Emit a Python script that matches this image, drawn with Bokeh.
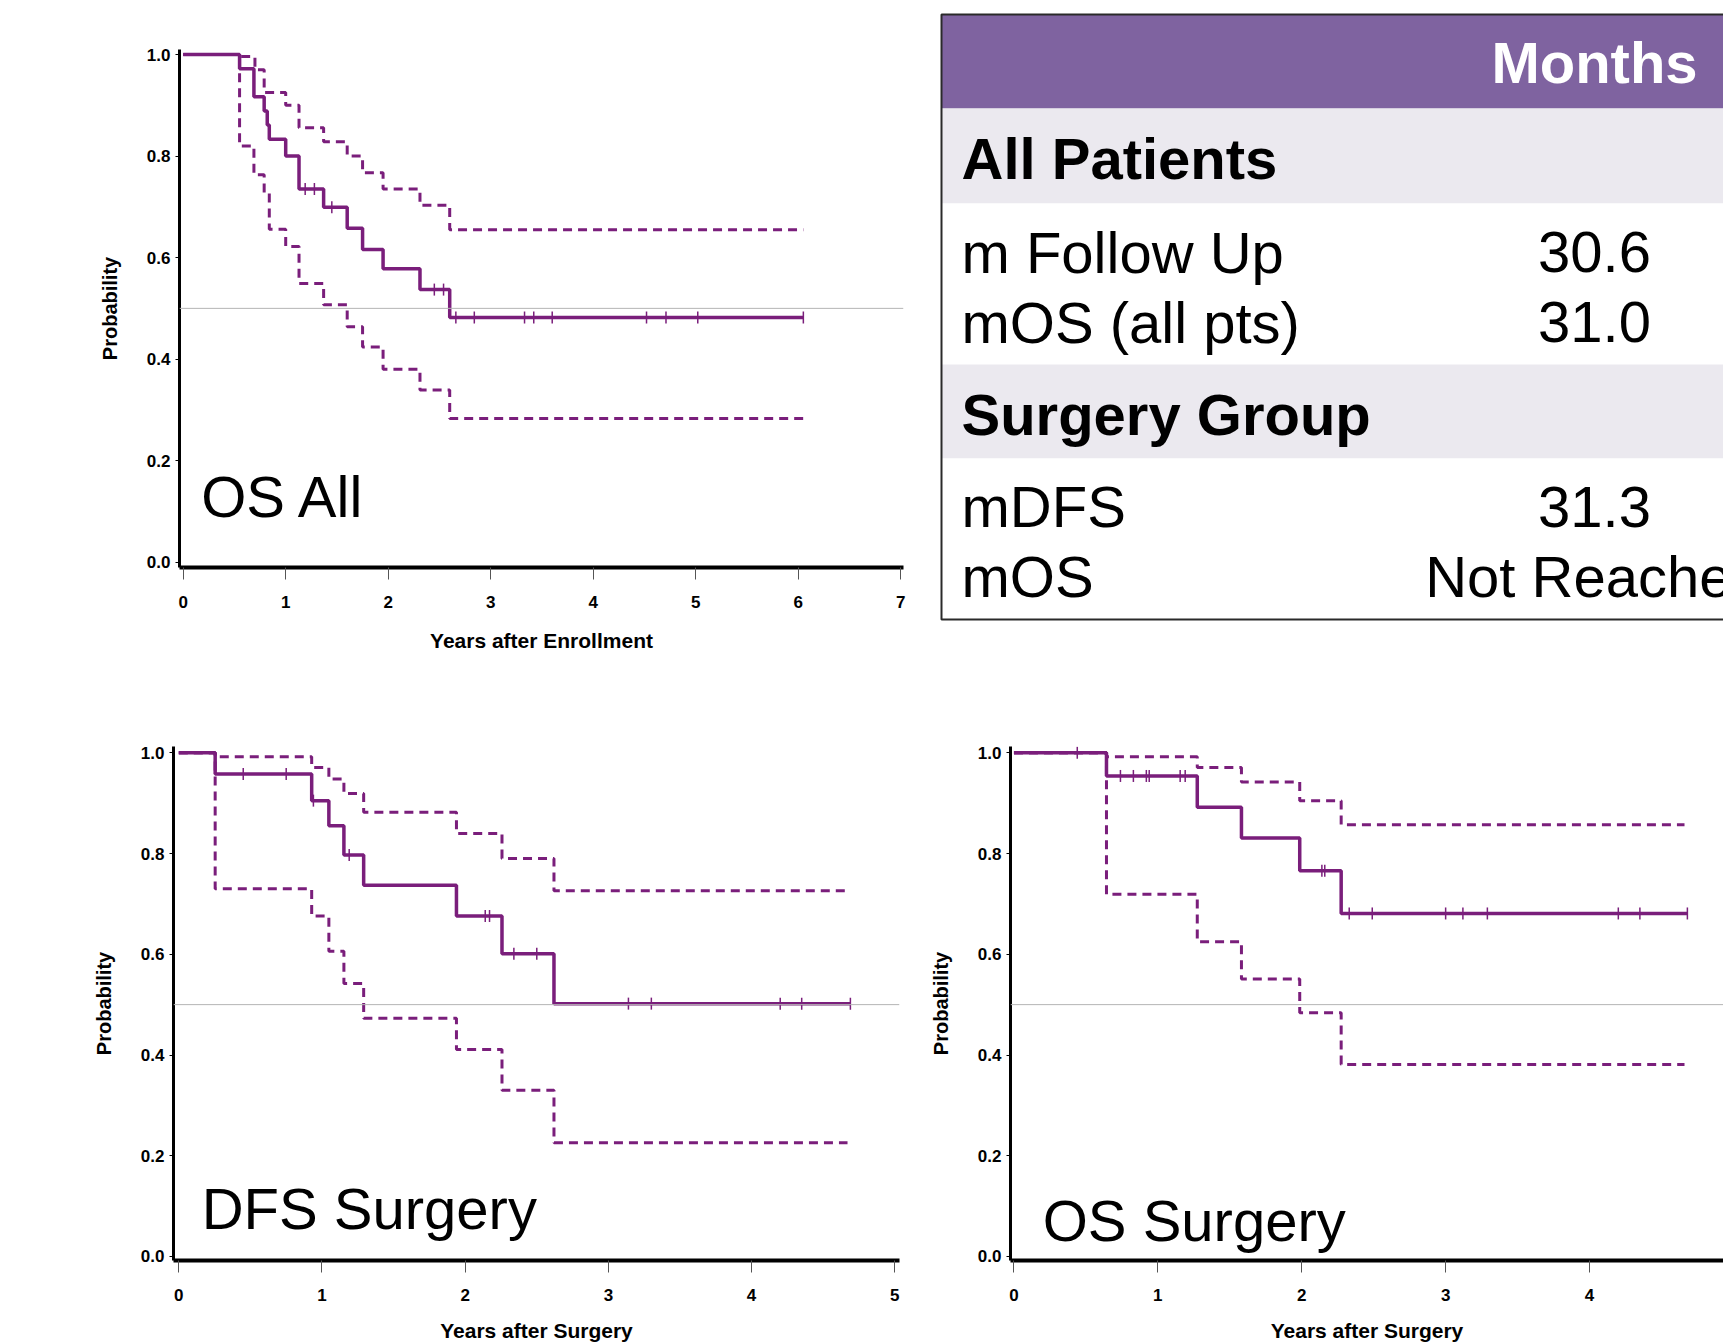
import numpy as np
from bokeh.plotting import figure
from bokeh.layouts import row, column
from bokeh.models import Range1d, FixedTicker, Span, Label
from bokeh.core.properties import value
from bokeh.embed import file_html
from bokeh.resources import INLINE

# ---------------- data ----------------
# OS, all patients (years after enrollment)
os_all_time = [0, 0.55, 0.69, 0.79, 0.82, 0.84, 1.00, 1.13, 1.37, 1.60, 1.75, 1.95, 2.31, 2.60, 6.05]
os_all_surv = [1.0, 0.972, 0.917, 0.889, 0.861, 0.833, 0.800, 0.735, 0.699, 0.658, 0.616, 0.578, 0.537, 0.482, 0.482]
os_all_up_time = [0, 0.55, 0.70, 0.79, 1.00, 1.13, 1.37, 1.60, 1.75, 1.95, 2.31, 2.60, 6.05]
os_all_up_surv = [1.0, 0.996, 0.970, 0.925, 0.900, 0.856, 0.828, 0.800, 0.767, 0.735, 0.703, 0.655, 0.655]
os_all_lo_time = [0, 0.55, 0.69, 0.79, 0.84, 1.00, 1.13, 1.37, 1.60, 1.75, 1.95, 2.31, 2.60, 6.05]
os_all_lo_surv = [1.0, 0.820, 0.763, 0.727, 0.656, 0.622, 0.549, 0.507, 0.464, 0.424, 0.380, 0.339, 0.283, 0.283]
os_all_censor = [1.19, 1.28, 1.45, 2.45, 2.54, 2.66, 2.84, 3.33, 3.42, 3.60, 4.52, 4.71, 5.02, 6.05]

# DFS, surgery group (years after surgery)
dfs_time = [0, 0.254, 0.928, 1.048, 1.153, 1.291, 1.939, 2.257, 2.62, 4.69]
dfs_surv = [1.0, 0.958, 0.905, 0.855, 0.797, 0.737, 0.676, 0.601, 0.502, 0.502]
dfs_ci_time = [0, 0.254, 0.928, 1.048, 1.153, 1.291, 1.939, 2.257, 2.62, 4.67]
dfs_up_surv = [1.0, 0.992, 0.971, 0.948, 0.919, 0.882, 0.840, 0.790, 0.726, 0.726]
dfs_lo_surv = [1.0, 0.730, 0.676, 0.606, 0.542, 0.473, 0.411, 0.330, 0.226, 0.226]
dfs_censor = [0.45, 0.75, 0.94, 1.19, 2.14, 2.17, 2.34, 2.50, 3.14, 3.30, 4.20, 4.35, 4.69]

# OS, surgery group (years after surgery)
oss_time = [0, 0.643, 1.274, 1.581, 1.986, 2.274, 4.68]
oss_surv = [1.0, 0.954, 0.892, 0.831, 0.766, 0.681, 0.681]
oss_ci_time = [0, 0.643, 1.274, 1.581, 1.986, 2.274, 4.66]
oss_up_surv = [1.0, 0.992, 0.971, 0.942, 0.905, 0.857, 0.857]
oss_lo_surv = [1.0, 0.719, 0.625, 0.551, 0.484, 0.381, 0.381]
oss_censor = [0.44, 0.74, 0.83, 0.92, 0.94, 1.155, 1.19, 2.14, 2.16, 2.33, 2.49, 3.00, 3.12, 3.29, 4.20, 4.35, 4.68]

y_ticks = [0.0, 0.2, 0.4, 0.6, 0.8, 1.0]
y_tick_labels = ["0.0", "0.2", "0.4", "0.6", "0.8", "1.0"]
x_ticks_enroll = [0, 1, 2, 3, 4, 5, 6, 7]
x_ticks_surgery = [0, 1, 2, 3, 4, 5]
median_level = 0.5

# summary table
table_header = "Months"
section_titles = ["All Patients", "Surgery Group"]
row_labels = ["m Follow Up", "mOS (all pts)", "mDFS", "mOS"]
row_values = ["30.6", "31.0", "31.3", "Not Reached"]

# ---------------- style ----------------
PURPLE = "#7A1E7B"
FONT = "Liberation Sans"
HEADER = "#7F63A0"
BAND = "#EBE9EF"


def step_at(times, surv, t):
    idx = np.searchsorted(np.asarray(times), np.asarray(t), side="right") - 1
    return [surv[i] for i in idx]


def km_panel(width, height, borders, xr, yr, xticks, xlabel, title, title_pos,
             t, s, t_up, s_up, t_lo, s_lo, cens, xlabel_standoff):
    bl, br, bt, bb = borders
    p = figure(width=width, height=height, x_range=Range1d(*xr), y_range=Range1d(*yr),
               output_backend="svg", toolbar_location=None,
               min_border_left=bl, min_border_right=br, min_border_top=bt, min_border_bottom=bb)
    p.outline_line_color = None
    p.grid.visible = False
    p.background_fill_color = "white"
    p.border_fill_color = "white"

    xa = p.xaxis[0]
    xa.ticker = FixedTicker(ticks=xticks)
    xa.axis_line_width = 4
    xa.axis_line_color = "black"
    xa.major_tick_out = 12
    xa.major_tick_in = 0
    xa.major_tick_line_color = "#555555"
    xa.major_tick_line_width = 1
    xa.minor_tick_line_color = None
    xa.major_label_standoff = 16
    xa.major_label_text_font = FONT
    xa.major_label_text_font_style = "bold"
    xa.major_label_text_font_size = "17px"
    xa.major_label_text_color = "black"
    xa.axis_label = xlabel
    xa.axis_label_text_font = FONT
    xa.axis_label_text_font_style = "bold"
    xa.axis_label_text_font_size = "21px"
    xa.axis_label_text_color = "black"
    xa.axis_label_standoff = xlabel_standoff

    ya = p.yaxis[0]
    ya.ticker = FixedTicker(ticks=y_ticks)
    ya.major_label_overrides = {v: l for v, l in zip(y_ticks, y_tick_labels)}
    ya.axis_line_width = 3
    ya.axis_line_color = "black"
    ya.major_tick_out = 4
    ya.major_tick_in = 0
    ya.major_tick_line_color = "black"
    ya.major_tick_line_width = 1
    ya.minor_tick_line_color = None
    ya.major_label_standoff = 5
    ya.major_label_text_font = FONT
    ya.major_label_text_font_style = "bold"
    ya.major_label_text_font_size = "17px"
    ya.major_label_text_color = "black"
    ya.axis_label = "Probability"
    ya.axis_label_text_font = FONT
    ya.axis_label_text_font_style = "bold"
    ya.axis_label_text_font_size = "20px"
    ya.axis_label_text_color = "black"
    ya.axis_label_standoff = 23

    p.add_layout(Span(location=median_level, dimension="width",
                      line_color="#b4b4b4", line_width=1))

    p.step(t_up, s_up, mode="after", line_color=PURPLE, line_width=3, line_dash="9 6")
    p.step(t_lo, s_lo, mode="after", line_color=PURPLE, line_width=3, line_dash="9 6")
    p.step(t, s, mode="after", line_color=PURPLE, line_width=3.5)
    p.scatter(cens, step_at(t, s, cens), marker="dash", angle=np.pi / 2, size=12,
              line_color=PURPLE, line_width=1.5)

    p.add_layout(Label(x=title_pos[0], y=title_pos[1], text=title, text_font=FONT,
                       text_font_size="58px", text_color="black",
                       text_baseline="alphabetic", text_align="left"))
    return p


pA = km_panel(930, 700, (179, 27, 49, 133), (-0.036, 7.027), (-0.0104, 1.0099),
              x_ticks_enroll, "Years after Enrollment", "OS All", (0.175, 0.129),
              os_all_time, os_all_surv, os_all_up_time, os_all_up_surv,
              os_all_lo_time, os_all_lo_surv, os_all_censor, 18)

pB = km_panel(920, 644, (173, 21, 46, 81), (-0.037, 5.033), (-0.008, 1.0125),
              x_ticks_surgery, "Years after Surgery", "DFS Surgery", (0.16, 0.095),
              dfs_time, dfs_surv, dfs_ci_time, dfs_up_surv,
              dfs_ci_time, dfs_lo_surv, dfs_censor, 15)

pC = km_panel(803, 644, (90, 0, 46, 81), (-0.024, 4.931), (-0.008, 1.0125),
              x_ticks_surgery, "Years after Surgery", "OS Surgery", (0.20, 0.071),
              oss_time, oss_surv, oss_ci_time, oss_up_surv,
              oss_ci_time, oss_lo_surv, oss_censor, 15)

# ---------------- summary table ----------------
TW, TH = 793, 700
pT = figure(width=TW, height=TH, x_range=Range1d(0, TW), y_range=Range1d(TH, 0),
            output_backend="svg", toolbar_location=None,
            x_axis_location=None, y_axis_location=None, min_border=0)
pT.outline_line_color = None
pT.grid.visible = False
pT.background_fill_color = "white"
pT.border_fill_color = "white"

box_left, box_right = 11, 805
band_edges = [14, 108, 203, 364, 458, 619]
band_colors = [HEADER, BAND, "white", BAND, "white"]
pT.quad(left=[box_left] * 5, right=[box_right] * 5,
        top=band_edges[:-1], bottom=band_edges[1:],
        fill_color=band_colors, line_color=None)
pT.quad(left=[box_left], right=[box_right], top=[band_edges[0]], bottom=[band_edges[-1]],
        fill_color=None, line_color="#2a2a2a", line_width=2)

label_x = 31
value_x = 664
pT.text(x=[value_x], y=[61.5], text=[table_header], text_font=value(FONT),
        text_font_size=value("58px"), text_font_style="bold", text_color="white",
        text_align="center", text_baseline="alphabetic")
pT.text(x=[label_x, label_x], y=[157.5, 413.5], text=section_titles, text_font=value(FONT),
        text_font_size=value("58px"), text_font_style="bold", text_color="black",
        text_align="left", text_baseline="alphabetic")
row_y = [251.5, 321.7, 506.3, 576.0]
pT.text(x=[label_x] * 4, y=row_y, text=row_labels, text_font=value(FONT),
        text_font_size=value("58px"), text_color="black",
        text_align="left", text_baseline="alphabetic")
pT.text(x=[value_x] * 4, y=row_y, text=row_values, text_font=value(FONT),
        text_font_size=value("58px"), text_color="black",
        text_align="center", text_baseline="alphabetic")

layout = column(row(pA, column(pT)), row(pB, pC))
open("out.html", "w").write(file_html(layout, INLINE))
